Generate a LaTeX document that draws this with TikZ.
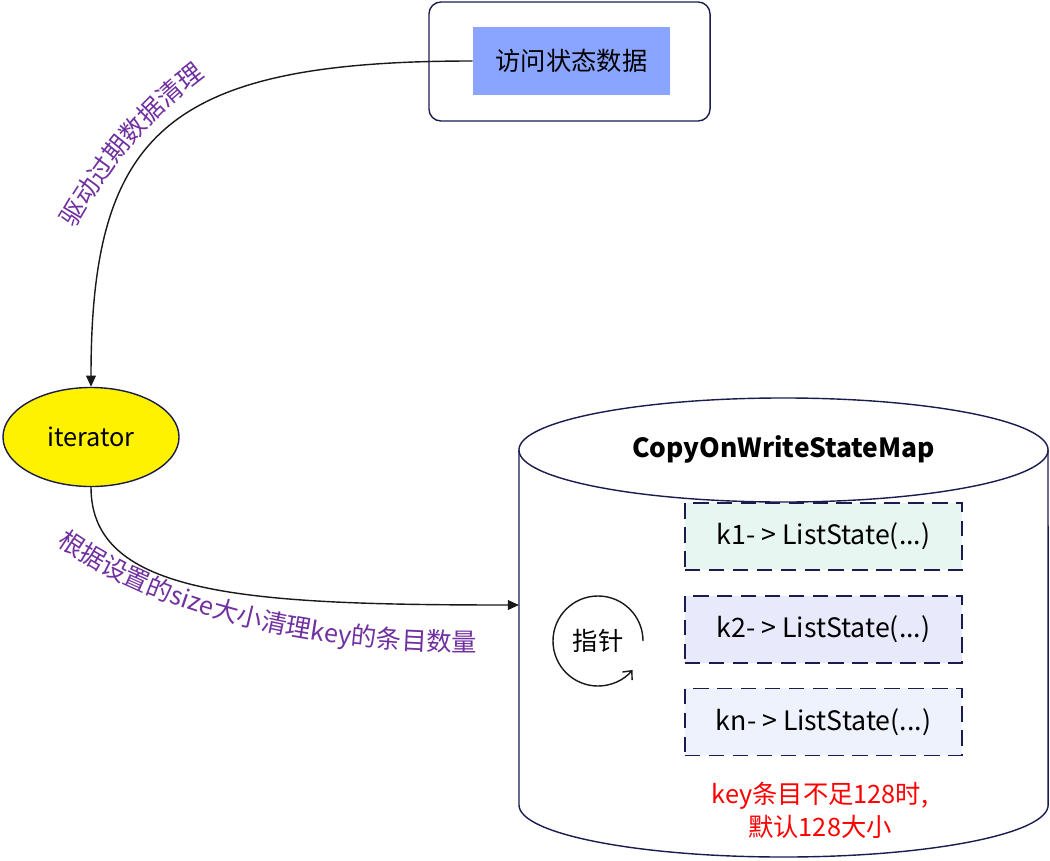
\documentclass[tikz,border=0pt]{standalone}
\usepackage{fontspec}
\setmainfont{Noto Sans CJK SC}
\usetikzlibrary{positioning, arrows.meta, shapes.geometric, decorations.text}

\definecolor{frame}{HTML}{1A1C4E}
\definecolor{access}{HTML}{8AA5FF}
\definecolor{remarkcol}{HTML}{7030A0}
\definecolor{kfilla}{HTML}{E8F6F2}
\definecolor{kfillb}{HTML}{E8EAFC}
\definecolor{kfillc}{HTML}{EEF2FD}

\newcommand{\remarkfont}{\fontsize{18}{21}\selectfont\color{remarkcol}}

\begin{document}
\begin{tikzpicture}[
    x=0.025cm, y=-0.025cm,
    >={Triangle[length=8pt, width=7pt]},
    font=\fontsize{18}{21}\selectfont,
    link/.style={draw=black!90, line width=1pt},
    entry/.style={draw=frame, line width=1.2pt, dash pattern=on 11pt off 6pt,
        minimum width=6.925cm, minimum height=1.675cm, inner sep=0pt,
        font=\fontsize{19}{22}\selectfont},
    remark/.style={decorate, decoration={text along path, text align=center}}
]
    \useasboundingbox (0,0) rectangle (1050,860);

    % Access box
    \node[draw=frame, line width=1pt, rounded corners=0.3cm,
          minimum width=7.025cm, minimum height=2.975cm] (outer) at (569.5,61.5) {};
    \node[fill=access, minimum width=4.925cm, minimum height=1.7cm] (access) at (571.5,61) {访问状态数据};

    % Iterator
    \node[ellipse, draw=frame, line width=1pt, fill=yellow, inner sep=0pt,
          minimum width=4.4cm, minimum height=2.475cm] (iter) at (91,437) {iterator};

    % Map
    \draw[frame, line width=1pt] (519,450) -- (519,805)
        arc[start angle=180, end angle=360, x radius=6.6125cm, y radius=1.3cm] -- (1048,450);
    \draw[frame, line width=1pt] (783.5,450) ellipse[x radius=6.6125cm, y radius=1.3cm];
    \node[font=\bfseries\fontsize{18.75}{22}\selectfont] (title) at (783.5,449) {CopyOnWriteStateMap};
    \coordinate (mapin) at (519,605);

    % Entries
    \node[entry, fill=kfilla] (k1) at (823.5,536.5) {k1- > ListState(...)};
    \node[entry, fill=kfillb, below=0.6cm of k1] (k2) {k2- > ListState(...)};
    \node[entry, fill=kfillc, below=0.6cm of k2] (kn) {kn- > ListState(...)};

    % Pointer
    \node (ptr) at (598,641) {指针};
    \draw[link, -{Straight Barb[length=5pt, width=9pt]}] (ptr.center) ++(1.125cm,0)
        arc[start angle=0, end angle=320, radius=1.125cm];

    % Note
    \node[text=red, align=center, font=\fontsize{18}{23.5}\selectfont] (note) at (820,810)
        {key条目不足128时,\\默认128大小};

    % Connectors
    \draw[link, ->] (access.west) .. controls +(-305,0) and +(0,-255) .. (iter.north);
    \draw[link, ->] (iter.south) .. controls +(0,108) and +(-275,0) .. (mapin);

    % Labels
    \path[remark, decoration={text={|\remarkfont|驱动过期数据清理}}]
        (58.7,256.8) -- (73.4,230.7) .. controls (107.7,169.8) and (150.8,115.1) .. (207.5,74.5) -- (231.8,57.1);
    \path[remark, decoration={text={|\remarkfont|根据设置的size大小清理key的条目数量}}]
        (17,515) -- (49,539) .. controls (137,605) and (286,654) .. (486,651) -- (526,651);

\end{tikzpicture}
\end{document}
